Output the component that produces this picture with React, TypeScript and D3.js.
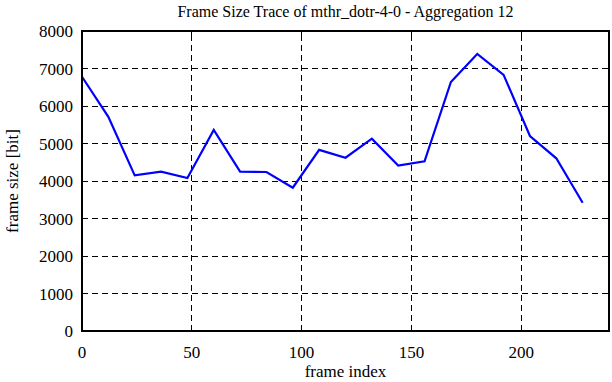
import React, { useEffect, useRef } from 'react';
import * as d3 from 'd3';

const frameIndex = [0, 12, 24, 36, 48, 60, 72, 84, 96, 108, 120, 132, 144, 156, 168, 180, 192, 204, 216, 228];
const frameSize = [6780, 5710, 4150, 4250, 4080, 5360, 4250, 4240, 3820, 4830, 4620, 5130, 4410, 4525, 6640, 7390, 6830, 5200, 4605, 3420];
const xTicks = [0, 50, 100, 150, 200];
const yTicks = [0, 1000, 2000, 3000, 4000, 5000, 6000, 7000, 8000];

const W = 612;
const H = 382;
const margin = { top: 31, right: 3, bottom: 51, left: 82 };
const FONT = '"Liberation Serif", "Times New Roman", serif';

const App: React.FC = () => {
  const svgRef = useRef<SVGSVGElement>(null);

  useEffect(() => {
    if (!svgRef.current) return;
    const svg = d3.select(svgRef.current);
    svg.selectAll('*').remove();

    const x = d3.scaleLinear().domain([0, 240]).range([margin.left, W - margin.right]);
    const y = d3.scaleLinear().domain([0, 8000]).range([H - margin.bottom, margin.top]);
    const [x0, x1] = x.range();
    const [y0, y1] = y.range();

    // grid
    const grid = svg.append('g')
      .attr('stroke', '#000')
      .attr('stroke-width', 1)
      .attr('stroke-dasharray', '6,4')
      .attr('shape-rendering', 'crispEdges');
    grid.selectAll('line.gx')
      .data(xTicks.filter(t => t > 0))
      .join('line')
      .attr('x1', d => x(d)).attr('x2', d => x(d))
      .attr('y1', y0).attr('y2', y1);
    grid.selectAll('line.gy')
      .data(yTicks.filter(t => t > 0 && t < 8000))
      .join('line')
      .attr('class', 'gy')
      .attr('x1', x0).attr('x2', x1)
      .attr('y1', d => y(d)).attr('y2', d => y(d));

    // inward tick marks
    const ticks = svg.append('g').attr('stroke', '#000').attr('stroke-width', 1)
      .attr('shape-rendering', 'crispEdges');
    xTicks.filter(t => t > 0).forEach(t => {
      ticks.append('line').attr('x1', x(t)).attr('x2', x(t)).attr('y1', y0).attr('y2', y0 - 6);
      ticks.append('line').attr('x1', x(t)).attr('x2', x(t)).attr('y1', y1).attr('y2', y1 + 6);
    });
    yTicks.filter(t => t > 0 && t < 8000).forEach(t => {
      ticks.append('line').attr('x1', x0).attr('x2', x0 + 6).attr('y1', y(t)).attr('y2', y(t));
      ticks.append('line').attr('x1', x1).attr('x2', x1 - 6).attr('y1', y(t)).attr('y2', y(t));
    });

    // data line
    const line = d3.line<number>()
      .x((_, i) => x(frameIndex[i]))
      .y(d => y(d));
    svg.append('path')
      .datum(frameSize)
      .attr('fill', 'none')
      .attr('stroke', '#0000ff')
      .attr('stroke-width', 2.2)
      .attr('stroke-linejoin', 'miter')
      .attr('d', line);

    // frame
    svg.append('rect')
      .attr('x', x0).attr('y', y1)
      .attr('width', x1 - x0).attr('height', y0 - y1)
      .attr('fill', 'none')
      .attr('stroke', '#000')
      .attr('stroke-width', 2);

    // tick labels
    const labels = svg.append('g').attr('font-family', FONT).attr('font-size', 17).attr('fill', '#000');
    labels.selectAll('text.xl')
      .data(xTicks)
      .join('text')
      .attr('class', 'xl')
      .attr('x', d => x(d))
      .attr('y', y0 + 27)
      .attr('text-anchor', 'middle')
      .text(d => d);
    labels.selectAll('text.yl')
      .data(yTicks)
      .join('text')
      .attr('class', 'yl')
      .attr('x', x0 - 9)
      .attr('y', d => y(d) + 6)
      .attr('text-anchor', 'end')
      .text(d => d);

    // title & axis labels
    svg.append('text')
      .attr('x', (x0 + x1) / 2)
      .attr('y', 17)
      .attr('text-anchor', 'middle')
      .attr('font-family', FONT)
      .attr('font-size', 16)
      .text('Frame Size Trace of mthr_dotr-4-0 - Aggregation 12');
    svg.append('text')
      .attr('x', (x0 + x1) / 2)
      .attr('y', 377)
      .attr('text-anchor', 'middle')
      .attr('font-family', FONT)
      .attr('font-size', 17)
      .text('frame index');
    svg.append('text')
      .attr('transform', `translate(18,${(y0 + y1) / 2}) rotate(-90)`)
      .attr('text-anchor', 'middle')
      .attr('font-family', FONT)
      .attr('font-size', 17)
      .text('frame size [bit]');
  }, []);

  return (
    <svg ref={svgRef} width={W} height={H}
      style={{ position: 'absolute', left: 0, top: 0, background: '#fff' }} />
  );
};

export default App;
